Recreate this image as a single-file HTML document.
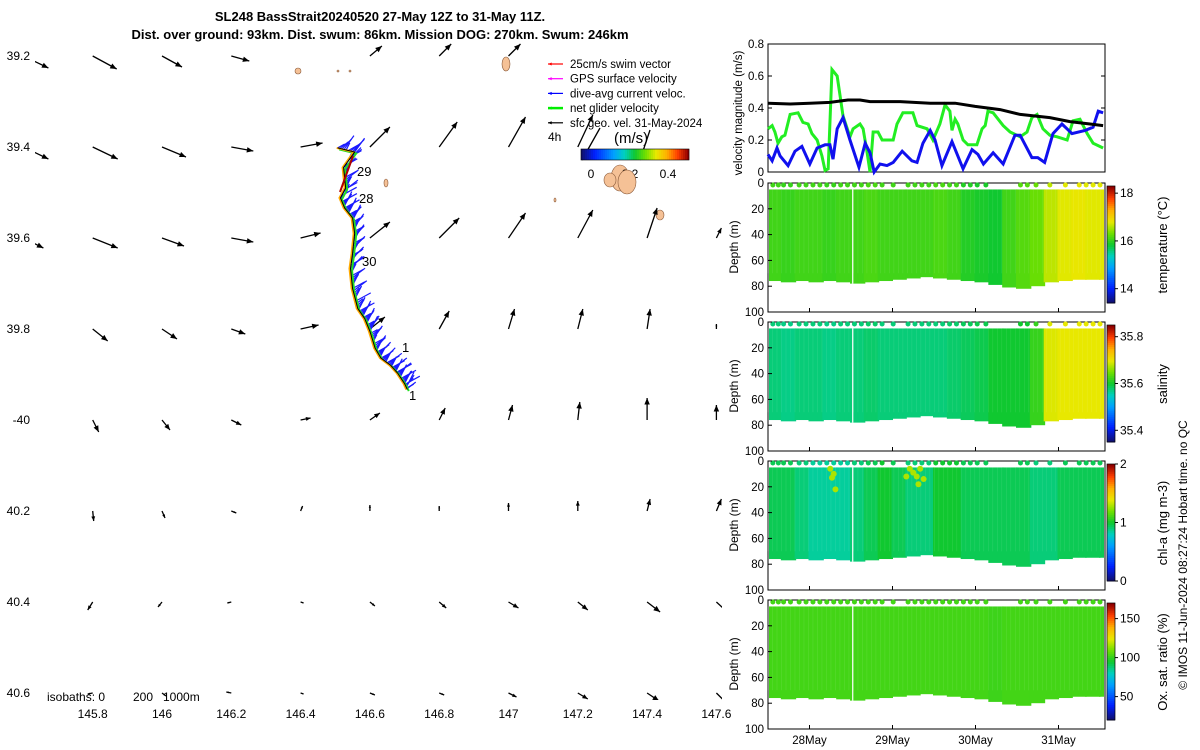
<!DOCTYPE html>
<html><head><meta charset="utf-8">
<style>
html,body{margin:0;padding:0;background:#fff;}
svg{display:block;font-family:"Liberation Sans",sans-serif;}
text{fill:#000;}
</style></head>
<body>
<svg id="fig" width="1200" height="750" viewBox="0 0 1200 750">
<text x="380" y="21" font-size="13" font-weight="bold" text-anchor="middle">SL248 BassStrait20240520 27-May 12Z to 31-May 11Z.</text>
<text x="380" y="39" font-size="13" font-weight="bold" text-anchor="middle">Dist. over ground: 93km. Dist. swum: 86km. Mission DOG: 270km. Swum: 246km</text>
<g id="map"></g>
<g id="right"></g>
</svg>
<script>
// ---------- DATA ----------
const mapLons=[145.6,145.8,146.0,146.2,146.4,146.6,146.8,147.0,147.2,147.4,147.6];
const mapLats=[39.2,39.4,39.6,39.8,40.0,40.2,40.4,40.6];
const quivU=[
[0.25,0.24,0.20,0.18,0.0,0.12,0.12,0.12,0.0,0.0,0.0],
[0.25,0.25,0.24,0.22,0.22,0.20,0.18,0.17,0.15,0.0,0.0],
[0.20,0.25,0.22,0.22,0.20,0.20,0.20,0.17,0.15,0.10,0.05],
[0.10,0.15,0.15,0.14,0.18,0.15,0.10,0.06,0.05,0.03,0.0],
[0.05,0.06,0.08,0.10,0.10,0.10,0.06,0.04,0.02,0.0,0.0],
[0.0,0.01,0.03,0.05,0.02,0.0,0.0,0.0,0.0,0.03,0.05],
[-0.05,-0.05,-0.04,-0.04,0.03,0.05,0.07,0.10,0.10,0.13,0.13],
[-0.05,-0.05,0.04,-0.05,0.03,0.05,0.05,0.08,0.10,0.12,0.12]];
const quivV=[
[-0.12,-0.13,-0.11,-0.05,0.0,0.10,0.12,0.12,0.0,0.0,0.0],
[-0.12,-0.12,-0.10,-0.04,0.04,0.20,0.25,0.30,0.32,0.0,0.0],
[-0.10,-0.10,-0.08,-0.04,0.05,0.16,0.20,0.25,0.28,0.30,0.10],
[-0.10,-0.12,-0.10,-0.05,0.04,0.12,0.18,0.20,0.20,0.20,0.05],
[-0.10,-0.12,-0.10,-0.05,0.02,0.07,0.12,0.15,0.18,0.22,0.15],
[-0.08,-0.10,-0.07,-0.02,0.05,0.06,0.05,0.08,0.10,0.12,0.12],
[-0.06,-0.08,-0.05,-0.01,-0.01,-0.04,-0.06,-0.06,-0.08,-0.10,-0.12],
[-0.01,-0.01,-0.03,0.01,-0.01,-0.02,-0.02,-0.04,-0.06,-0.08,-0.12]];
const trackLon=[146.507,146.556,146.524,146.53,146.515,146.527,146.55,146.556,146.55,146.544,146.55,146.565,146.585,146.6,146.615,146.632,146.66,146.68,146.7,146.708];
const trackLat=[39.402,39.411,39.445,39.49,39.512,39.534,39.556,39.59,39.634,39.667,39.711,39.755,39.777,39.805,39.842,39.864,39.88,39.897,39.92,39.933];
const tickLonLabels=["145.8","146","146.2","146.4","146.6","146.8","147","147.2","147.4","147.6"];
const tickLonVals=[145.8,146,146.2,146.4,146.6,146.8,147,147.2,147.4,147.6];
const tickLatLabels=["39.2","39.4","39.6","39.8","-40","40.2","40.4","40.6"];

// velocity time series (hours since 27-May 12Z)
const greenT=[0,1.2,2,2.9,4,4.9,6.4,8.7,10.1,11.6,12.7,14.2,15.6,16.5,17.4,18.5,20,21.7,23.7,24.6,26.6,27.5,28.6,29.5,30.4,31.8,33,36.2,37.3,39,41.9,43.1,46,47.7,49.7,51.2,52.6,53.2,54.1,54.9,56.4,57.8,60.4,61.9,62.8,63.6,65.1,68,70,72.9,74.9,76.3,77.8,79.5,81.5,83.6,86.5,88.2,90.2,92.3,94,96.9];
const greenV=[0.27,0.29,0.25,0.18,0.22,0.23,0.36,0.37,0.31,0.30,0.24,0.20,0.10,0.01,0.02,0.64,0.60,0.35,0.22,0.27,0.30,0.27,0.13,0.0,0.25,0.25,0.20,0.20,0.30,0.37,0.37,0.29,0.27,0.20,0.30,0.42,0.38,0.26,0.33,0.30,0.20,0.17,0.17,0.27,0.29,0.38,0.37,0.29,0.25,0.22,0.25,0.34,0.36,0.27,0.23,0.22,0.20,0.32,0.33,0.24,0.18,0.15];
const blueT=[0,1.2,2.6,3.5,5.8,7.8,9.8,12.1,14.2,16.5,17.9,18.8,20,21.7,23.7,26.3,28.1,29.5,30.7,32.4,34.4,36.2,38.8,41.6,43.1,44.8,46.9,48.3,50.3,53.2,56.4,59,60.7,62.3,65.1,68,71.4,72.9,76.3,78,80,82.4,85,87.9,91.7,94,95.5,96.9];
const blueV=[0.11,0.07,0.15,0.10,0.04,0.13,0.16,0.05,0.15,0.17,0.17,0.08,0.27,0.34,0.20,0.03,0.18,0.12,0.0,0.05,0.04,0.06,0.13,0.07,0.06,0.18,0.26,0.20,0.04,0.19,0.02,0.14,0.11,0.05,0.12,0.05,0.23,0.23,0.09,0.09,0.06,0.24,0.30,0.24,0.26,0.28,0.38,0.37];
const blackT=[0,6.4,12.1,17.9,23.1,26.6,29.5,38.2,46.9,54.1,59.9,67.1,72.9,81.5,87.3,93.1,96.9];
const blackV=[0.43,0.425,0.43,0.435,0.45,0.45,0.44,0.44,0.43,0.43,0.41,0.39,0.36,0.34,0.315,0.30,0.29];
const velTicks=[0,0.2,0.4,0.6,0.8];
const dateTicks=[12,36,60,84];
const dateLabels=["28May","29May","30May","31May"];

// sections: 4-hour bins
const binHours=[0,4,8,12,16,20,24,28,32,36,40,44,48,52,56,60,64,68,72,76,80,84,88,92,96];
const bottomDepth=[76,77,76,77,76,77,78,77,76,75,74,73,74,75,76,77,79,81,82,80,77,76,75,75,75];
const tempVals=[16.1,16.05,16.1,16.1,16.05,16.1,16.1,16.15,16.1,16.1,16.1,16.1,16.15,16.1,15.95,15.9,15.85,16.1,16.2,16.3,16.65,16.8,16.85,16.8,16.8];
const salVals=[35.575,35.57,35.575,35.575,35.57,35.575,35.575,35.58,35.575,35.575,35.575,35.575,35.575,35.58,35.585,35.59,35.6,35.6,35.6,35.62,35.695,35.70,35.70,35.70,35.70];
const chlVals=[0.95,0.95,0.9,0.85,0.85,0.85,0.9,0.95,1.0,0.95,0.9,0.9,1.0,1.0,0.95,0.95,0.95,0.95,0.95,0.9,0.9,0.95,0.95,0.95,0.95];
const oxVals=[103,103,103,103,103,103,103,103,103,103,103,103,103,103,103,103,102,103,103,103,103,103,103,103,103];
const surfHours=[1.4,3,4.5,6.5,9,11,13,15,17,19,21,23,25,27,29,31,33,36.2,40.5,42.5,44.5,46.5,48.5,50.5,52.5,54.5,56.5,58.5,60.5,63,73,75,77.5,81.5,86,90,92,94,96];
const depthTicks=[0,20,40,60,80,100];
const panels=[
 {name:"temperature",vals:tempVals,min:13.4,max:18.3,ticks:[14,16,18],label:"temperature (°C)"},
 {name:"salinity",vals:salVals,min:35.35,max:35.85,ticks:[35.4,35.6,35.8],label:"salinity"},
 {name:"chlorophyll",vals:chlVals,min:0,max:2,ticks:[0,1,2],label:"chl-a (mg m-3)"},
 {name:"oxygen",vals:oxVals,min:20,max:170,ticks:[50,100,150],label:"Ox. sat. ratio (%)"}
];
// ---------- helpers ----------
const NS="http://www.w3.org/2000/svg";
function mk(tag,attrs,parent){const e=document.createElementNS(NS,tag);for(const k in attrs)e.setAttribute(k,attrs[k]);parent.appendChild(e);return e;}
function cmap(t){t=Math.max(0,Math.min(1,t));
 const st=[[0,[16,16,112]],[0.12,[0,32,255]],[0.3,[0,160,255]],[0.4,[0,208,192]],[0.5,[16,200,48]],[0.6,[112,224,0]],[0.7,[232,232,0]],[0.8,[255,176,0]],[0.9,[255,64,0]],[1,[144,0,0]]];
 for(let i=1;i<st.length;i++){if(t<=st[i][0]){const a=st[i-1],b=st[i];const f=(t-a[0])/(b[0]-a[0]);
 return "rgb("+a[1].map((v,j)=>Math.round(v+(b[1][j]-v)*f)).join(",")+")";}}return "rgb(144,0,0)";}
function arrow(g,x1,y1,x2,y2,col,w,head){
 mk("line",{x1:x1,y1:y1,x2:x2,y2:y2,stroke:col,"stroke-width":w},g);
 const a=Math.atan2(y2-y1,x2-x1),L=Math.min(head,Math.hypot(x2-x1,y2-y1)*0.5);
 mk("polygon",{points:`${x2},${y2} ${x2-L*Math.cos(a-0.4)},${y2-L*Math.sin(a-0.4)} ${x2-L*Math.cos(a+0.4)},${y2-L*Math.sin(a+0.4)}`,fill:col},g);}
// ---------- MAP ----------
const map=document.getElementById("map");
const mx=lon=>162+(lon-146)*346.5, my=lat=>147+(lat-39.4)*455;
const MX0=35,MX1=722,MY0=42,MY1=700;
const cp0=mk("clipPath",{id:"mapclip"},map);mk("rect",{x:MX0,y:MY0,width:MX1-MX0,height:MY1-MY0},cp0);
const mg=mk("g",{"clip-path":"url(#mapclip)"},map);
[[298,71,3,3],[506,64,4,7],[620,178,9,13],[660,215,4,5],[386,183,2,4],[338,71,1,1],[350,71,1,1],[555,200,1,2]].forEach((d,i)=>{
 const e=mk("ellipse",{cx:d[0],cy:d[1],rx:d[2],ry:d[3],fill:"#f5c196",stroke:"#8a5a3a","stroke-width":0.6},mg);
 });
mapLats.forEach((lat,r)=>mapLons.forEach((lon,c)=>{
 const u=quivU[r][c],v=quivV[r][c];if(Math.hypot(u,v)<0.005)return;
 const g=mk("g",{},mg);
 const x=mx(lon),y=my(lat);arrow(g,x,y,x+u*100,y-v*100,"#000",1.3,7);}));
const tg=mk("g",{},mg);
const tp=trackLon.map((l,i)=>[mx(l),my(trackLat[i])]);
for(let i=0;i<tp.length-1;i++){const n=8;for(let k=0;k<n;k++){const f=k/n;const x=tp[i][0]+(tp[i+1][0]-tp[i][0])*f,y=tp[i][1]+(tp[i+1][1]-tp[i][1])*f;
 const ang=-0.5-0.6*((i*n+k)%5)/4;const len=8+((i*3+k)%4)*3;
 mk("line",{x1:x,y1:y,x2:x+len*Math.cos(ang),y2:y+len*Math.sin(ang),stroke:"#1a1aff","stroke-width":1.2},tg);}}
mk("polyline",{points:tp.map(p=>(p[0]+1.5)+","+(p[1]+1.5)).join(" "),fill:"none",stroke:"#22dd22","stroke-width":2},tg);
mk("polyline",{points:tp.map(p=>(p[0]-1)+","+p[1]).join(" "),fill:"none",stroke:"#ffaa00","stroke-width":2},tg);
mk("polyline",{points:tp.map(p=>p.join(",")).join(" "),fill:"none",stroke:"#000","stroke-width":1},tg);
mk("line",{x1:353,y1:156,x2:340,y2:192,stroke:"#b00000","stroke-width":2},tg);
[["29",357,176],["28",359,203],["30",362,266],["1",402,352],["1",409,400]].forEach(d=>{const t=mk("text",{x:d[1],y:d[2],"font-size":13},mg);t.textContent=d[0];
 });
tickLonVals.forEach((v,i)=>{const t=mk("text",{x:mx(v),y:718,"font-size":12,"text-anchor":"middle"},map);t.textContent=tickLonLabels[i];
 });
mapLats.forEach((v,i)=>{const t=mk("text",{x:30,y:my(v)+4,"font-size":12,"text-anchor":"end"},map);t.textContent=tickLatLabels[i];
 });
[["isobaths: 0",47],["200",133],["1000m",163]].forEach(d=>{const t=mk("text",{x:d[1],y:701,"font-size":12},map);t.textContent=d[0];
 });
const lg=mk("g",{},map);
[["#ff0000","25cm/s swim vector"],["#ff00ff","GPS surface velocity"],["#0000ff","dive-avg current veloc."],["#00ee00","net glider velocity"],["#000","sfc geo. vel. 31-May-2024"]].forEach((d,i)=>{
 const y=64+i*14.7;arrow(lg,563,y,548,y,d[0],i==3?2.5:1.2,4);const t=mk("text",{x:570,y:y+4,"font-size":11.5},lg);t.textContent=d[1];});
mk("line",{x1:600,y1:128,x2:582,y2:160,stroke:"#000","stroke-width":1.3},lg);
mk("line",{x1:650,y1:130,x2:640,y2:160,stroke:"#000","stroke-width":1.3},lg);
let t4=mk("text",{x:548,y:141,"font-size":12},lg);t4.textContent="4h";
let tms=mk("text",{x:614,y:143,"font-size":15},lg);tms.textContent="(m/s)";
for(let i=0;i<54;i++)mk("rect",{x:581+i*2,y:149,width:2.2,height:11,fill:cmap(i/53)},lg);
mk("rect",{x:581,y:149,width:108,height:11,fill:"none",stroke:"#000","stroke-width":0.6},lg);
[["0",591],["0.2",630],["0.4",668]].forEach(d=>{const t=mk("text",{x:d[1],y:178,"font-size":12,"text-anchor":"middle"},lg);t.textContent=d[0];});
mk("ellipse",{cx:627,cy:182,rx:9,ry:12,fill:"#f5c196",stroke:"#8a5a3a","stroke-width":0.6},lg);
mk("ellipse",{cx:610,cy:180,rx:6,ry:7,fill:"#f5c196",stroke:"#8a5a3a","stroke-width":0.6},lg);

// ---------- RIGHT PANELS ----------
const R=document.getElementById("right");
const X0=768,X1=1105;
const tx=h=>X0+(h/24)*83;
const VY0=44,VY1=172, vy=v=>VY1-v*160;
const vp=mk("g",{},R);
mk("rect",{x:X0,y:VY0,width:X1-X0,height:VY1-VY0,fill:"#fff",stroke:"#000","stroke-width":1},vp);
velTicks.forEach(v=>{mk("line",{x1:X0,y1:vy(v),x2:X0+4,y2:vy(v),stroke:"#000"},vp);mk("line",{x1:X1,y1:vy(v),x2:X1-4,y2:vy(v),stroke:"#000"},vp);
 const t=mk("text",{x:764,y:vy(v)+4,"font-size":11.5,"text-anchor":"end"},vp);t.textContent=v===0?"0":String(v);
 });
[[greenT,greenV,"#22ee22","net-velocity-line"],[blueT,blueV,"#1010ee","current-velocity-line"],[blackT,blackV,"#000","geostrophic-velocity-line"]].forEach(s=>{
 const p=mk("polyline",{points:s[0].map((h,i)=>tx(h)+","+vy(s[1][i])).join(" "),fill:"none",stroke:s[2],"stroke-width":3},vp);
 });
let vl=mk("text",{x:0,y:0,"font-size":11.5,"text-anchor":"middle",transform:`translate(742,113) rotate(-90)`},vp);vl.textContent="velocity magnitude (m/s)";

const PY=[183,322,461,600];
panels.forEach((p,k)=>{
 const y0=PY[k],dy=d=>y0+d*1.29;
 const g=mk("g",{},R);
 mk("rect",{x:X0,y:y0,width:X1-X0,height:129,fill:"#fff",stroke:"#000"},g);
 const norm=v=>(v-p.min)/(p.max-p.min);
 binHours.forEach((h,i)=>{const xs=Math.max(X0+1,tx(h)-1),xe=Math.min(X1-1,tx(h+4)+0.5);
  const r=mk("rect",{x:xs,y:dy(5),width:Math.max(0,xe-xs),height:dy(bottomDepth[i])-dy(5),fill:cmap(norm(p.vals[i]))},g);
  });
 for(let h=0;h<97;h+=1.3)mk("line",{x1:tx(h),y1:dy(5),x2:tx(h),y2:dy(70),stroke:"rgba(255,255,255,0.12)","stroke-width":0.6},g);
 mk("line",{x1:tx(24.5),y1:dy(5),x2:tx(24.5),y2:dy(78),stroke:"#fff","stroke-width":1.2},g);
 if(k===2){[[18,6],[19,10],[18.5,13],[19.5,22],[41,6],[42,9],[43,12],[44,6],[45,14],[40,12],[43.5,18]].forEach(d=>mk("circle",{cx:tx(d[0]),cy:dy(d[1]),r:3,fill:cmap(norm(1.3))},g));}
 surfHours.forEach(h=>{const bi=Math.min(24,Math.floor(h/4));const c=mk("circle",{cx:tx(h),cy:y0+2,r:2.5,fill:cmap(norm(p.vals[bi]))},g);
  });
 depthTicks.forEach(d=>{mk("line",{x1:X0,y1:dy(d),x2:X0+4,y2:dy(d),stroke:"#000"},g);
  const t=mk("text",{x:764,y:dy(d)+4,"font-size":11.5,"text-anchor":"end"},g);t.textContent=d;});
 dateTicks.forEach(h=>mk("line",{x1:tx(h),y1:y0+129,x2:tx(h),y2:y0+125,stroke:"#000"},g));
 const dl=mk("text",{x:0,y:0,"font-size":12,"text-anchor":"middle",transform:`translate(738,${y0+64}) rotate(-90)`},g);dl.textContent="Depth (m)";
 
 const cb=mk("g",{},g);
 const cy0=y0+3,cy1=y0+120;
 for(let i=0;i<60;i++)mk("rect",{x:1107,y:cy1-(i+1)*(cy1-cy0)/60,width:8,height:(cy1-cy0)/60+0.5,fill:cmap(i/59)},cb);
 mk("rect",{x:1107,y:cy0,width:8,height:cy1-cy0,fill:"none",stroke:"#000","stroke-width":0.7},cb);
 p.ticks.forEach(v=>{const y=cy1-norm(v)*(cy1-cy0);mk("line",{x1:1115,y1:y,x2:1118,y2:y,stroke:"#000"},cb);
  const t=mk("text",{x:1120,y:y+4,"font-size":12},cb);t.textContent=String(v);});
 const cl=mk("text",{x:0,y:0,"font-size":13,"text-anchor":"middle",transform:`translate(1167,${y0+62}) rotate(-90)`},cb);cl.textContent=p.label;
});
dateTicks.forEach((h,i)=>{const t=mk("text",{x:tx(h),y:744,"font-size":11.5,"text-anchor":"middle"},R);t.textContent=dateLabels[i];
 });
const cp=mk("text",{x:0,y:0,"font-size":12,"text-anchor":"middle",transform:`translate(1187,555) rotate(-90)`},R);
cp.textContent="© IMOS 11-Jun-2024 08:27:24 Hobart time. no QC";

</script>
</body></html>
